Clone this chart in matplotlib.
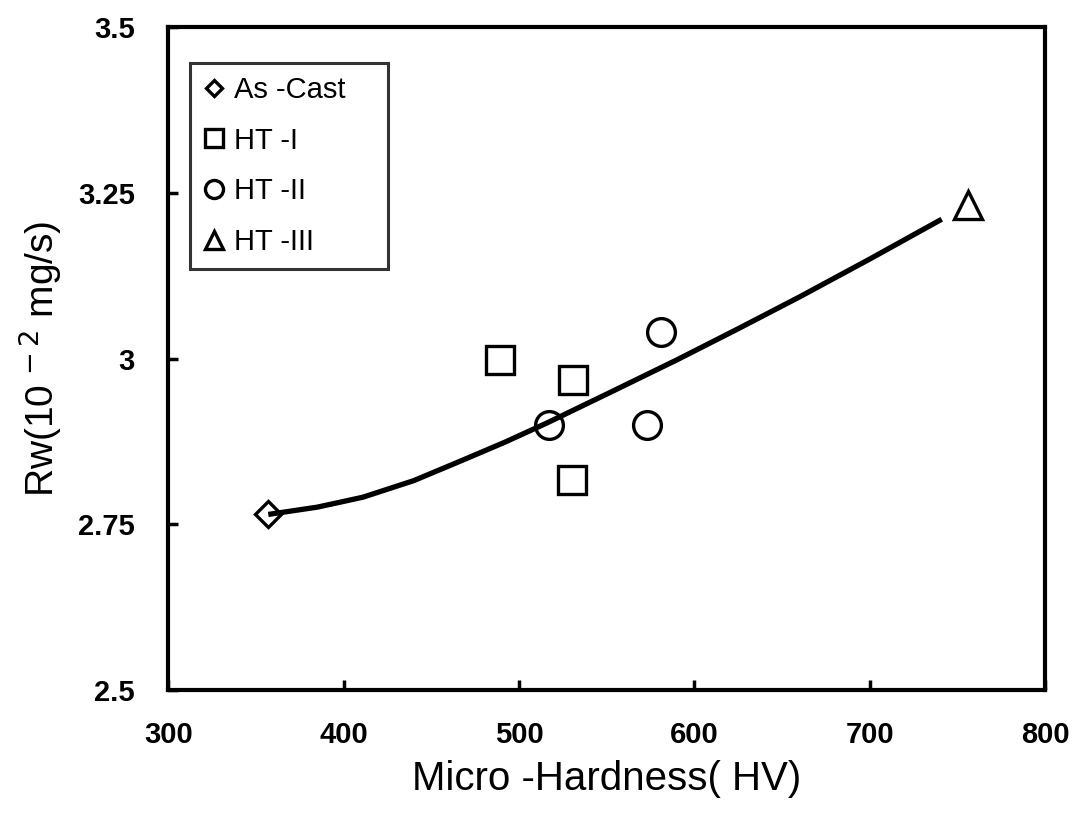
import numpy as np
import matplotlib
matplotlib.use("Agg")
import matplotlib.pyplot as plt

plt.rcParams['font.family'] = ['Liberation Sans', 'DejaVu Sans']

# measured points
cast_x = [357]
cast_y = [2.765]
ht1_x = [489, 531, 530]
ht1_y = [2.998, 2.968, 2.817]
ht2_x = [517, 573, 581]
ht2_y = [2.90, 2.90, 3.04]
ht3_x = [756]
ht3_y = [3.232]

# trend curve
curve_x = [357, 385, 411, 440, 468, 492, 516, 552, 590, 625, 660, 700, 741]
curve_y = [2.765, 2.776, 2.791, 2.816, 2.847, 2.874, 2.903, 2.949, 2.998, 3.045, 3.093, 3.150, 3.210]

x_ticks = [300, 400, 500, 600, 700, 800]
y_ticks = [2.5, 2.75, 3.0, 3.25, 3.5]
y_tick_labels = ['2.5', '2.75', '3', '3.25', '3.5']

fig = plt.figure(figsize=(10.72, 8.13), dpi=100)
ax = fig.add_axes([0.157, 0.151, 0.818, 0.816])

ax.plot(curve_x, curve_y, color='black', lw=3.8, solid_capstyle='butt', zorder=2)

mk = dict(linestyle='none', markerfacecolor='none', markeredgecolor='black',
          markeredgewidth=2.4, zorder=3)
ax.plot(cast_x, cast_y, marker='D', markersize=13, label='As -Cast', **mk)
ax.plot(ht1_x, ht1_y, marker='s', markersize=20, label='HT -I', **mk)
ax.plot(ht2_x, ht2_y, marker='o', markersize=20, label='HT -II', **mk)
ax.plot(ht3_x, ht3_y, marker='^', markersize=20, label='HT -III', **mk)

ax.set_xlim(300, 800)
ax.set_ylim(2.5, 3.5)
ax.set_xticks(x_ticks)
ax.set_yticks(y_ticks)
ax.set_yticklabels(y_tick_labels)
ax.tick_params(direction='in', length=7, width=2.5, labelsize=21)
ax.tick_params(axis='x', pad=22)
ax.tick_params(axis='y', pad=24)
for lab in ax.get_xticklabels() + ax.get_yticklabels():
    lab.set_fontweight('bold')
for sp in ax.spines.values():
    sp.set_linewidth(3)

ax.set_xlabel('Micro -Hardness( HV)', fontsize=29, labelpad=8)
ax.set_ylabel(r'Rw(10$^{\,-2}$ mg/s)', fontsize=28, labelpad=10)

# legend box stretched to the width seen in the figure
leg = ax.legend(loc='upper left', bbox_to_anchor=(0.025, 0.0, 0.226, 0.946),
                mode='expand', fontsize=21,
                frameon=True, fancybox=False, edgecolor='black', markerscale=0.65,
                handlelength=0.7, handletextpad=0.35, labelspacing=0.78,
                borderpad=0.45, borderaxespad=0)
leg.get_frame().set_linewidth(2.2)

fig.savefig('out.png', dpi=100)
